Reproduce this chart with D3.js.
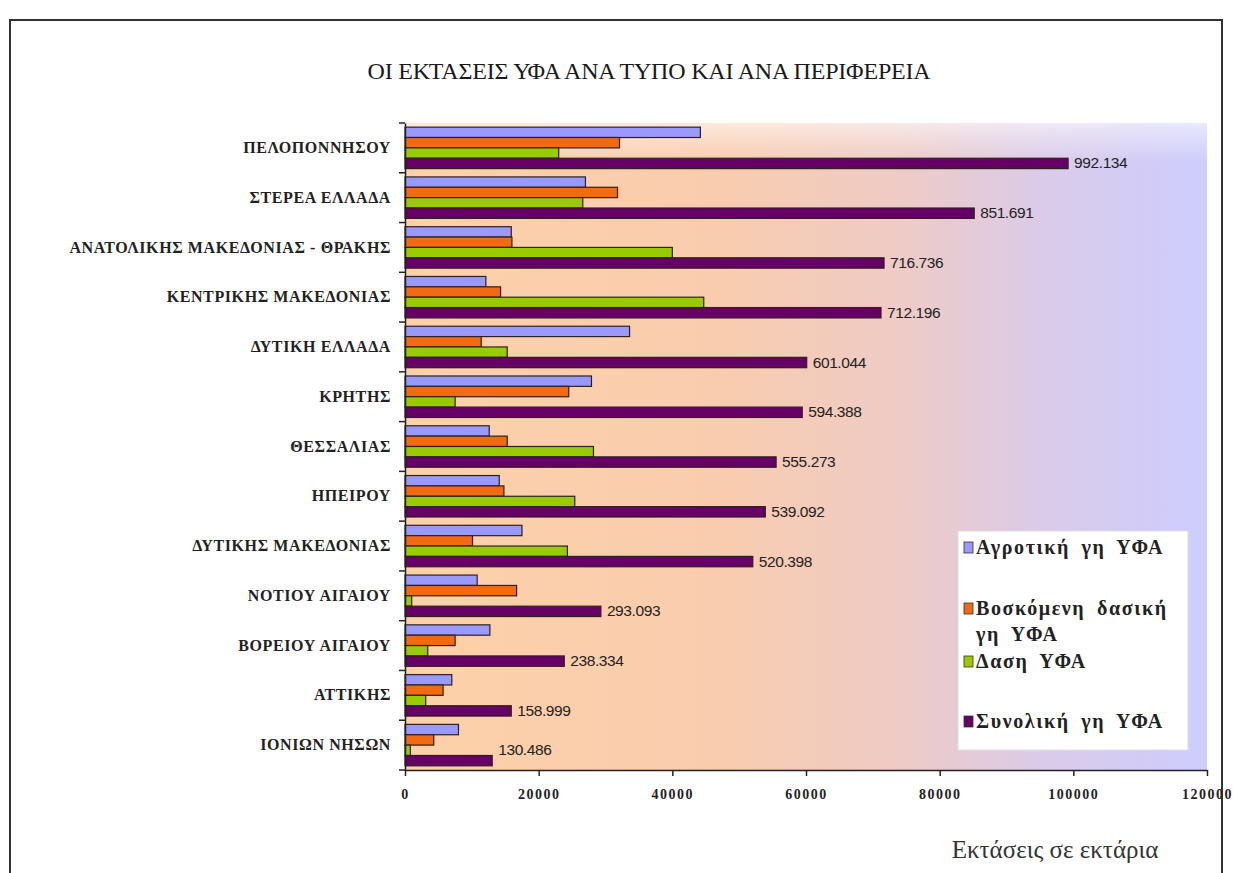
<!DOCTYPE html>
<html><head><meta charset="utf-8">
<script src="https://cdn.jsdelivr.net/npm/d3@7"></script>
<style>body{margin:0;background:#fff;} svg{display:block;}</style>
</head><body>
<svg id="chart" width="1233" height="873"></svg>
<script>
const categories = ["ΠΕΛΟΠΟΝΝΗΣΟΥ","ΣΤΕΡΕΑ ΕΛΛΑΔΑ","ΑΝΑΤΟΛΙΚΗΣ ΜΑΚΕΔΟΝΙΑΣ - ΘΡΑΚΗΣ","ΚΕΝΤΡΙΚΗΣ ΜΑΚΕΔΟΝΙΑΣ","ΔΥΤΙΚΗ ΕΛΛΑΔΑ","ΚΡΗΤΗΣ","ΘΕΣΣΑΛΙΑΣ","ΗΠΕΙΡΟΥ","ΔΥΤΙΚΗΣ ΜΑΚΕΔΟΝΙΑΣ","ΝΟΤΙΟΥ ΑΙΓΑΙΟΥ","ΒΟΡΕΙΟΥ ΑΙΓΑΙΟΥ","ΑΤΤΙΚΗΣ","ΙΟΝΙΩΝ ΝΗΣΩΝ"];
const seriesNames = ["Αγροτική γη ΥΦΑ","Βοσκόμενη δασική γη ΥΦΑ","Δαση ΥΦΑ","Συνολική γη ΥΦΑ"];
const agricultural = [44200, 27000, 15900, 12100, 33600, 27900, 12600, 14100, 17500, 10800, 12700, 7000, 8000];
const pasture      = [32100, 31800, 16000, 14300, 11400, 24500, 15300, 14800, 10100, 16700, 7500, 5700, 4300];
const forest       = [23000, 26600, 40000, 44700, 15300, 7500, 28200, 25400, 24300, 1000, 3400, 3100, 800];
const total        = [99213, 85169, 71674, 71220, 60104, 59439, 55527, 53909, 52040, 29309, 23833, 15900, 13049];
const totalLabels  = ["992.134","851.691","716.736","712.196","601.044","594.388","555.273","539.092","520.398","293.093","238.334","158.999","130.486"];
const xTicks = [0, 20000, 40000, 60000, 80000, 100000, 120000];
const colors = ["#9999FF","#F26A12","#99CC00","#660066"];

const svg = d3.select("#chart");
const serif = "'Liberation Serif','DejaVu Serif',serif";
const sans = "'Liberation Sans',Arial,sans-serif";

// outer frame
svg.append("rect").attr("x",10).attr("y",20).attr("width",1212).attr("height",880)
  .attr("fill","none").attr("stroke","#333").attr("stroke-width",2);

// title
svg.append("text").attr("x",649).attr("y",79).attr("text-anchor","middle")
  .attr("font-family",serif).attr("font-size",24).attr("fill","#1a1a1a")
  .attr("letter-spacing",-0.2)
  .text("ΟΙ ΕΚΤΑΣΕΙΣ ΥΦΑ ΑΝΑ ΤΥΠΟ ΚΑΙ ΑΝΑ ΠΕΡΙΦΕΡΕΙΑ");

const L = 405, R = 1207, T = 123, B = 770;
const x = d3.scaleLinear().domain([0,120000]).range([L,R]);
const y = d3.scaleBand().domain(categories).range([T,B]).paddingInner(0).paddingOuter(0);
const sub = d3.scaleBand().domain([0,1,2,3]).range([0,y.bandwidth()]).paddingOuter(0.4).paddingInner(0);

// background gradient
const defs = svg.append("defs");
const g = defs.append("linearGradient").attr("id","bg").attr("x1","0").attr("x2","1").attr("y1","0").attr("y2","0");
[[0,"#FDD1A8"],[0.4,"#F9CCAF"],[0.62,"#EECBC6"],[0.8,"#DACBEA"],[1,"#CDCDFD"]].forEach(s=>
  g.append("stop").attr("offset",s[0]).attr("stop-color",s[1]));
const gv = defs.append("linearGradient").attr("id","fade").attr("x1","0").attr("x2","0").attr("y1","0").attr("y2","1");
gv.append("stop").attr("offset",0).attr("stop-color","#fff").attr("stop-opacity",0.55);
gv.append("stop").attr("offset",0.06).attr("stop-color","#fff").attr("stop-opacity",0);
svg.append("rect").attr("x",L).attr("y",T).attr("width",R-L).attr("height",B-T).attr("fill","url(#bg)");
svg.append("rect").attr("x",L).attr("y",T).attr("width",R-L).attr("height",B-T).attr("fill","url(#fade)");

const seriesData = [agricultural, pasture, forest, total];
seriesData.forEach((arr, si) => {
  svg.append("g").selectAll("rect").data(arr).join("rect")
    .attr("x", x(0))
    .attr("y", (d,i) => y(categories[i]) + sub(si))
    .attr("width", d => x(d) - x(0))
    .attr("height", sub.bandwidth())
    .attr("fill", colors[si])
    .attr("stroke", "#2e2020").attr("stroke-width", 1.2);
});

// data labels for totals
svg.append("g").selectAll("text").data(total).join("text")
  .attr("x", d => x(d) + 6)
  .attr("y", (d,i) => y(categories[i]) + sub(3) + sub.bandwidth()/2 + 5 - (i === 12 ? 11 : 0))
  .attr("font-family", sans).attr("font-size", 15.5).attr("fill","#222")
  .attr("letter-spacing", -0.4)
  .text((d,i) => totalLabels[i]);

// y axis
const yAxis = svg.append("g").attr("transform",`translate(${L},0)`)
  .call(d3.axisLeft(y).tickSize(0).tickFormat(d=>d).tickPadding(14));
yAxis.select(".domain").attr("stroke","#222").attr("stroke-width",1.5);
yAxis.selectAll("text").attr("font-family",serif).attr("font-size",16).attr("fill","#222")
  .attr("font-weight","bold").attr("letter-spacing",0.6);
// group boundary ticks
const bounds = categories.map(c=>y(c)).concat([B]);
svg.append("g").selectAll("line").data(bounds).join("line")
  .attr("x1",L-6).attr("x2",L).attr("y1",d=>d).attr("y2",d=>d)
  .attr("stroke","#222").attr("stroke-width",1.5);

// x axis
const xAxis = svg.append("g").attr("transform",`translate(0,${B})`)
  .call(d3.axisBottom(x).tickValues(xTicks).tickSize(6).tickSizeOuter(0).tickPadding(13).tickFormat(d3.format("d")));
xAxis.select(".domain").attr("stroke","#222").attr("stroke-width",1.5);
xAxis.selectAll(".tick line").attr("stroke","#222").attr("stroke-width",1.5);
xAxis.selectAll("text").attr("font-family",serif).attr("font-size",14).attr("font-weight","bold").attr("fill","#222")
  .attr("letter-spacing",1.5);

// axis title
svg.append("text").attr("x",1055).attr("y",858).attr("text-anchor","middle")
  .attr("font-family",serif).attr("font-size",25).attr("fill","#333")
  .text("Εκτάσεις σε εκτάρια");

// legend
const lg = svg.append("g");
lg.append("rect").attr("x",958).attr("y",531).attr("width",230).attr("height",219)
  .attr("fill","#fff").attr("stroke","#ddd");
const legendRows = [
  {i:0, lines:["Αγροτική γη ΥΦΑ"], y:548},
  {i:1, lines:["Βοσκόμενη δασική","γη ΥΦΑ"], y:609},
  {i:2, lines:["Δαση ΥΦΑ"], y:662},
  {i:3, lines:["Συνολική γη ΥΦΑ"], y:722}
];
legendRows.forEach(r => {
  lg.append("rect").attr("x",964).attr("y",r.y-6).attr("width",9).attr("height",11)
    .attr("fill",colors[r.i]).attr("stroke","#333").attr("stroke-width",0.8);
  r.lines.forEach((t,k) => lg.append("text").attr("x",976).attr("y",r.y+6+k*26)
    .attr("font-family",serif).attr("font-size",20).attr("font-weight","bold").attr("fill","#222")
    .attr("letter-spacing",1.6).attr("word-spacing",5).text(t));
});
</script>
</body></html>
